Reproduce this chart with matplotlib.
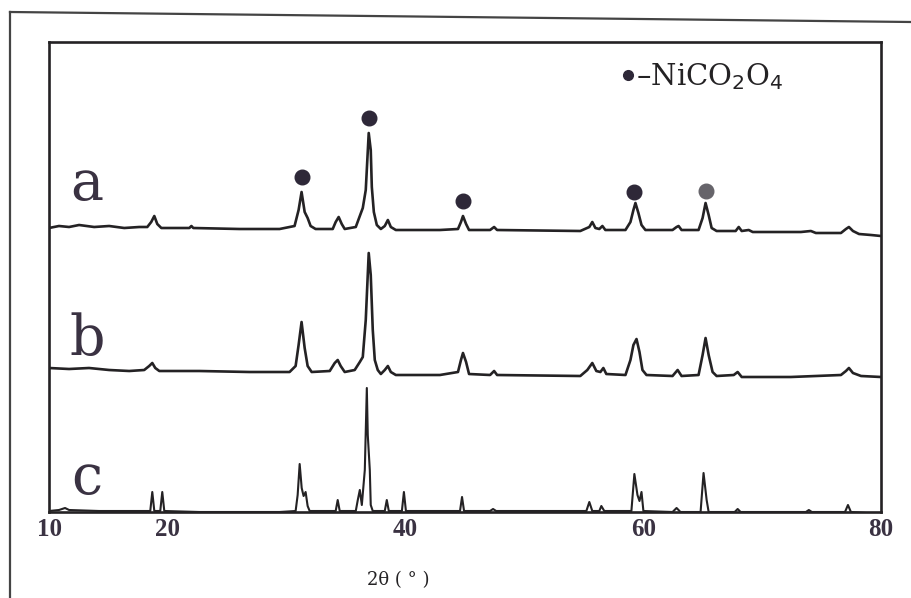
import numpy as np
import matplotlib
matplotlib.use("Agg")
import matplotlib.pyplot as plt
from matplotlib.lines import Line2D

# XRD patterns, 2theta (deg) and intensity (a.u.)
a_theta = [10.00, 10.84, 11.69, 12.53, 13.80, 15.06, 16.33, 17.59, 18.27, 18.60, 18.86, 19.11, 19.45,
           21.81, 21.98, 22.14, 26.02, 29.40, 30.66, 31.00, 31.25, 31.51, 31.76, 32.01, 32.43,
           33.87, 34.12, 34.37, 34.63, 34.88, 35.81, 36.15, 36.40, 36.65, 36.90, 37.07, 37.16,
           37.33, 37.58, 37.92, 38.25, 38.51, 38.76, 39.18, 42.89, 44.41, 44.66, 44.83, 45.09,
           45.34, 47.11, 47.45, 47.70, 54.70, 55.46, 55.71, 55.97, 56.30, 56.56, 56.81, 58.50,
           58.92, 59.17, 59.34, 59.59, 59.85, 60.18, 62.46, 62.80, 62.97, 63.22, 64.65, 64.99,
           65.24, 65.50, 65.75, 66.17, 67.77, 68.03, 68.28, 68.87, 69.21, 73.26, 74.10, 74.52,
           76.63, 77.05, 77.30, 77.64, 78.15, 79.16, 80.00]
a_int = [-1, 1, 0, 2, 0, 1, -1, 0, 0, 5, 11, 3, -1,
         -1, 1, -1, -2, -2, 1, 17, 35, 15, 9, 1, -2,
         -2, 5, 10, 3, -2, 0, 11, 19, 37, 94, 77, 40,
         15, 2, -2, 1, 7, 0, -3, -3, -2, 5, 11, 3,
         -3, -3, 0, -3, -4, 0, 5, -1, -2, 1, -3, -3,
         5, 17, 24, 14, 2, -3, -3, 0, 1, -3, -3, 9,
         24, 12, -1, -4, -4, 0, -4, -3, -5, -5, -4, -6,
         -6, -2, 0, -4, -7, -8, -9]

b_theta = [10.00, 11.69, 13.37, 15.06, 16.75, 18.01, 18.43, 18.69, 18.94, 19.28, 22.65, 26.87,
           30.24, 30.75, 31.00, 31.25, 31.51, 31.76, 32.10, 33.62, 34.04, 34.29, 34.54, 34.88,
           35.72, 36.15, 36.40, 36.65, 36.90, 37.07, 37.24, 37.41, 37.66, 37.92, 38.25, 38.51,
           38.76, 39.18, 42.89, 44.41, 44.66, 44.83, 45.09, 45.34, 47.11, 47.45, 47.70, 54.70,
           55.29, 55.71, 56.05, 56.39, 56.64, 56.89, 58.50, 58.92, 59.17, 59.43, 59.68, 59.93,
           60.27, 62.46, 62.89, 63.22, 64.65, 64.99, 65.24, 65.50, 65.83, 66.17, 67.61, 67.94,
           68.28, 72.41, 76.63, 77.05, 77.30, 77.64, 78.32, 80.00]
b_int = [2, 1, 2, 0, -1, 0, 4, 7, 2, -1, -1, -2,
         -2, 4, 25, 48, 22, 4, -2, -1, 7, 10, 4, -2,
         0, 8, 13, 50, 117, 95, 40, 10, 0, -4, 0, 4,
         -2, -5, -5, -2, 10, 17, 8, -4, -5, -1, -5, -6,
         0, 7, -1, -2, 2, -4, -5, 10, 25, 31, 18, 0,
         -5, -6, 0, -6, -5, 15, 32, 15, -2, -6, -5, -2,
         -7, -7, -5, -1, 2, -3, -6, -7]

c_theta = [10.00, 10.84, 11.35, 11.69, 14.22, 18.52, 18.69, 18.86, 19.36, 19.53, 19.70, 22.65,
           29.40, 30.75, 30.92, 31.09, 31.26, 31.42, 31.59, 31.76, 31.93, 34.12, 34.29, 34.46,
           35.81, 35.98, 36.15, 36.32, 36.57, 36.74, 36.82, 36.99, 37.07, 37.24, 38.25, 38.42,
           38.59, 39.69, 39.86, 40.03, 44.58, 44.75, 44.92, 47.11, 47.36, 47.62, 55.21, 55.46,
           55.71, 56.30, 56.47, 56.72, 59.00, 59.25, 59.51, 59.68, 59.85, 60.01, 62.46, 62.80,
           63.13, 64.82, 65.07, 65.33, 65.50, 67.69, 67.94, 68.19, 73.68, 73.93, 74.18, 76.97,
           77.22, 77.47, 80.00]
c_int = [0, 1, 3, 1, 0, 0, 19, 0, 0, 19, 0, -1,
         -1, 0, 16, 47, 23, 15, 19, 5, 0, 0, 11, 0,
         0, 11, 21, 6, 41, 123, 76, 41, 6, 0, 0, 11,
         0, 0, 19, 0, 0, 14, 0, 0, 2, 0, 0, 9,
         0, 0, 5, 0, 0, 37, 16, 10, 19, 0, -1, 3,
         -1, -1, 38, 11, -1, -1, 2, -1, -1, 1, -1, -1,
         6, -1, -3]

# NiCo2O4 reflections marked on pattern a
marked_peaks = [31.25, 36.90, 44.83, 59.25, 65.30]
marker_colors = ["#2e2838", "#2e2838", "#2e2838", "#2e2838", "#66646a"]

tick_vals = [10, 20, 40, 60, 80]
tick_text = ["10", "20", "40", "60", "80"]

ink = "#242224"
letter_col = "#3a3242"

fig = plt.figure(figsize=(9.11, 5.98), dpi=100)
ax = fig.add_axes([49 / 911, 1 - 512 / 598, 832 / 911, 470 / 598])

offsets = {"a": 285, "b": 142, "c": 1}
ax.plot(a_theta, np.array(a_int) + offsets["a"], color=ink, lw=1.9)
ax.plot(b_theta, np.array(b_int) + offsets["b"], color=ink, lw=1.9)
ax.plot(c_theta, np.array(c_int) + offsets["c"], color=ink, lw=1.5)

# dots above the marked peaks
for pk, col in zip(marked_peaks, marker_colors):
    yy = offsets["a"] + np.interp(pk, a_theta, a_int) + 15
    ax.plot(pk, yy, "o", color=col, ms=10.5, mec=col)

for lab, dy in [("a", 27), ("b", 15), ("c", 17)]:
    ax.text(13.2, offsets[lab] + dy, lab, fontsize=40, family="DejaVu Serif",
            color=letter_col, ha="center", va="baseline")

# legend-like note in the corner
ax.plot(0.696, 0.930, "o", color="#2e2838", ms=7, transform=ax.transAxes)
ax.text(0.706, 0.926, "–NiCO$_2$O$_4$", transform=ax.transAxes, fontsize=21,
        family="DejaVu Serif", color=ink, ha="left", va="center")

ax.set_xlim(10, 80)
ax.set_ylim(0, 470)
ax.set_xticks(tick_vals)
ax.set_xticklabels(tick_text, family="Liberation Serif", fontweight="bold",
                   fontsize=18, color=letter_col)
ax.tick_params(axis="x", length=0, pad=4)
ax.set_yticks([])
for sp in ax.spines.values():
    sp.set_linewidth(1.9)
    sp.set_color(ink)

fig.text(398 / 911, 1 - 580 / 598, "2θ ( ° )", family="DejaVu Serif", fontsize=13,
         color=ink, ha="center", va="center")

# border of the scanned page
fig.add_artist(Line2D([10 / 911, 10 / 911], [0, 1 - 12 / 598], transform=fig.transFigure,
                      color="#444", lw=1.6))
fig.add_artist(Line2D([10 / 911, 1], [1 - 12 / 598, 1 - 22 / 598], transform=fig.transFigure,
                      color="#444", lw=1.6))

fig.savefig("out.png", dpi=100)
